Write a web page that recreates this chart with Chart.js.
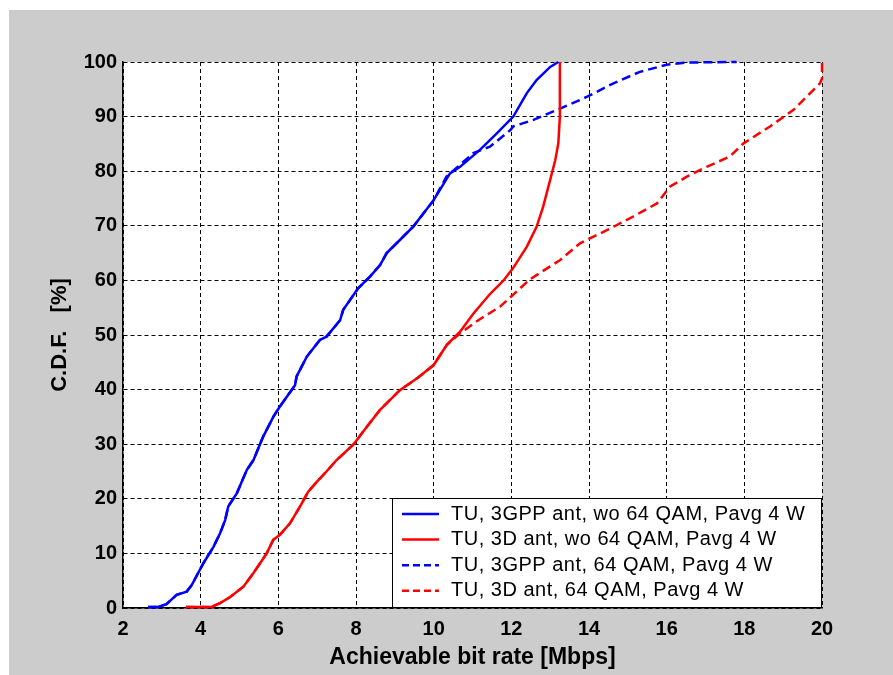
<!DOCTYPE html>
<html>
<head>
<meta charset="utf-8">
<script src="https://cdn.jsdelivr.net/npm/chart.js@4"></script>
<style>
  html, body { margin: 0; padding: 0; background: #ffffff; }
  #fig { position: absolute; left: 9px; top: 10px; width: 884px; height: 665px; background: #cccccc; }
  canvas { display: block; }
</style>
</head>
<body>
<div id="fig"><canvas id="grafico" width="884" height="665"></canvas></div>
<script>
// ==========================
// Data
// ==========================
const xTicks = [2, 4, 6, 8, 10, 12, 14, 16, 18, 20];
const yTicks = [0, 10, 20, 30, 40, 50, 60, 70, 80, 90, 100];

const seriesLabels = [
  "TU, 3GPP ant, wo 64 QAM, Pavg 4 W",
  "TU, 3D ant, wo 64 QAM, Pavg 4 W",
  "TU, 3GPP ant, 64 QAM, Pavg 4 W",
  "TU, 3D ant, 64 QAM, Pavg 4 W",
];

// blue solid
const blueSolidX = [2.65, 2.9, 3.12, 3.38, 3.64, 3.77, 3.98, 4.07, 4.33, 4.5, 4.63, 4.71, 4.93, 5.19, 5.36, 5.61, 5.87, 6.04, 6.43, 6.47, 6.73, 7.07, 7.24, 7.59, 7.67, 8.06, 8.36, 8.62, 8.79, 9.13, 9.48, 10.0, 10.42, 10.68, 11.19, 11.62, 12.05, 12.4, 12.65, 13.0, 13.21];
const blueSolidY = [0.2, 0.2, 0.7, 2.4, 3.0, 4.2, 7.0, 8.2, 11.2, 13.7, 16.1, 18.6, 21.0, 25.3, 27.1, 31.4, 35.0, 36.9, 40.8, 42.4, 46.0, 49.1, 49.7, 52.7, 54.6, 58.6, 60.7, 62.8, 65.0, 67.4, 69.9, 74.7, 79.6, 80.8, 83.9, 86.9, 90.0, 94.3, 96.7, 99.1, 100];

// red solid
const redSolidX = [3.62, 4.28, 4.5, 4.76, 5.1, 5.36, 5.53, 5.7, 5.87, 6.04, 6.3, 6.56, 6.77, 6.99, 7.24, 7.5, 7.93, 8.28, 8.62, 9.13, 9.6, 10.0, 10.34, 10.68, 11.02, 11.45, 11.8, 12.05, 12.4, 12.65, 12.82, 13.0, 13.13, 13.21, 13.25, 13.25];
const redSolidY = [0.2, 0.2, 0.9, 2.0, 3.9, 6.4, 8.2, 10.0, 12.5, 13.4, 15.5, 18.6, 21.3, 23.1, 25.0, 27.1, 29.9, 33.2, 36.3, 39.9, 42.2, 44.5, 48.2, 50.6, 53.9, 57.5, 60.0, 62.3, 66.2, 69.8, 73.5, 78.4, 82.0, 85.1, 90.0, 100];

// blue dashed
const blueDashX = [2.65, 2.9, 3.12, 3.38, 3.64, 3.77, 3.98, 4.07, 4.33, 4.5, 4.63, 4.71, 4.93, 5.19, 5.36, 5.61, 5.87, 6.04, 6.43, 6.47, 6.73, 7.07, 7.24, 7.59, 7.67, 8.06, 8.36, 8.62, 8.79, 9.13, 9.48, 10.0, 10.33, 11.02, 11.45, 11.97, 12.05, 12.57, 13.27, 13.94, 14.63, 15.31, 16.0, 16.51, 17.8];
const blueDashY = [0.2, 0.2, 0.7, 2.4, 3.0, 4.2, 7.0, 8.2, 11.2, 13.7, 16.1, 18.6, 21.0, 25.3, 27.1, 31.4, 35.0, 36.9, 40.8, 42.4, 46.0, 49.1, 49.7, 52.7, 54.6, 58.6, 60.7, 62.8, 65.0, 67.4, 69.9, 74.7, 79.0, 83.3, 84.5, 87.5, 88.2, 89.4, 91.5, 93.6, 96.1, 98.2, 99.5, 99.9, 100];

// red dashed
const redDashX = [3.62, 4.28, 4.5, 4.76, 5.1, 5.36, 5.53, 5.7, 5.87, 6.04, 6.3, 6.56, 6.77, 6.99, 7.24, 7.5, 7.93, 8.28, 8.62, 9.13, 9.6, 10.0, 10.34, 10.68, 11.19, 11.71, 12.05, 12.48, 13.25, 13.77, 14.46, 15.14, 15.75, 16.09, 16.52, 17.03, 17.63, 17.98, 18.66, 19.26, 19.78, 19.95, 20.0, 20.0];
const redDashY = [0.2, 0.2, 0.9, 2.0, 3.9, 6.4, 8.2, 10.0, 12.5, 13.4, 15.5, 18.6, 21.3, 23.1, 25.0, 27.1, 29.9, 33.2, 36.3, 39.9, 42.2, 44.5, 48.2, 50.3, 52.9, 55.2, 57.4, 60.2, 63.7, 66.8, 69.2, 71.7, 74.1, 77.2, 79.0, 80.8, 82.7, 85.1, 88.2, 91.2, 94.9, 96.1, 97.0, 100];

// ==========================
// Helpers
// ==========================
function pontos(xs, ys) {
  return xs.map((x, i) => ({ x: x, y: ys[i] }));
}

const azul = "#0000ff";
const vermelho = "#ff0000";
const tracejado = [9, 5];

const datasets = [
  { label: seriesLabels[0], data: pontos(blueSolidX, blueSolidY), borderColor: azul, dash: [] },
  { label: seriesLabels[1], data: pontos(redSolidX, redSolidY), borderColor: vermelho, dash: [] },
  { label: seriesLabels[2], data: pontos(blueDashX, blueDashY), borderColor: azul, dash: tracejado },
  { label: seriesLabels[3], data: pontos(redDashX, redDashY), borderColor: vermelho, dash: tracejado },
].map((d) => ({
  label: d.label,
  data: d.data,
  borderColor: d.borderColor,
  backgroundColor: d.borderColor,
  borderDash: d.dash,
  borderWidth: 2.5,
  pointRadius: 0,
  showLine: true,
  tension: 0,
  fill: false,
  clip: 4,
}));

// legend box drawn inside the axes (bottom right corner), matlab style
const legendaMatlab = {
  id: "legendaMatlab",
  afterDraw(chart) {
    const { ctx, chartArea } = chart;
    const w = 430, h = 110;
    const x0 = chartArea.right - w;
    const y0 = chartArea.bottom - h;
    ctx.save();
    ctx.fillStyle = "#ffffff";
    ctx.fillRect(x0, y0, w, h);
    ctx.strokeStyle = "#000000";
    ctx.lineWidth = 1;
    ctx.strokeRect(x0 + 0.5, y0 + 0.5, w - 1, h - 1);
    ctx.font = "20px 'Liberation Sans', Arial, sans-serif";
    ctx.letterSpacing = "0.5px";
    ctx.textBaseline = "middle";
    ctx.fillStyle = "#000000";
    chart.data.datasets.forEach((ds, i) => {
      const yy = y0 + 16 + i * 25.6;
      ctx.beginPath();
      ctx.setLineDash(ds.borderDash.length ? [7, 4] : []);
      ctx.strokeStyle = ds.borderColor;
      ctx.lineWidth = 2.5;
      ctx.moveTo(x0 + 10, yy);
      ctx.lineTo(x0 + 47, yy);
      ctx.stroke();
      ctx.setLineDash([]);
      ctx.fillText(ds.label, x0 + 59, yy);
    });
    ctx.restore();
  },
};

const fundoBranco = {
  id: "fundoBranco",
  beforeDraw(chart) {
    const { ctx, chartArea } = chart;
    ctx.save();
    ctx.fillStyle = "#ffffff";
    ctx.fillRect(chartArea.left, chartArea.top, chartArea.right - chartArea.left, chartArea.bottom - chartArea.top);
    ctx.restore();
  },
};

const fonteTick = { family: "'Liberation Sans', Arial, sans-serif", size: 20, weight: "bold" };

new Chart(document.getElementById("grafico").getContext("2d"), {
  type: "scatter",
  data: { datasets },
  options: {
    responsive: false,
    animation: false,
    layout: { padding: { top: 52, right: 71, left: 0, bottom: 0 } },
    plugins: { legend: { display: false }, tooltip: { enabled: false } },
    scales: {
      x: {
        type: "linear",
        min: 2,
        max: 20,
        afterFit: (s) => { s.height = 67; },
        afterBuildTicks: (s) => { s.ticks = xTicks.map((v) => ({ value: v })); },
        ticks: { color: "#000", font: fonteTick, padding: 9, maxRotation: 0 },
        grid: { color: "#000", lineWidth: 1, drawTicks: false },
        border: { display: true, color: "#000", width: 1.5, dash: [4, 3] },
        title: {
          display: true,
          text: "Achievable bit rate [Mbps]",
          color: "#000",
          font: { family: "'Liberation Sans', Arial, sans-serif", size: 23, weight: "bold" },
          padding: { top: 0, bottom: 4 },
        },
      },
      y: {
        type: "linear",
        min: 0,
        max: 100,
        afterFit: (s) => { s.width = 114; },
        afterBuildTicks: (s) => { s.ticks = yTicks.map((v) => ({ value: v })); },
        ticks: { color: "#000", font: fonteTick, padding: 6 },
        grid: { color: "#000", lineWidth: 1, drawTicks: false },
        border: { display: true, color: "#000", width: 1.5, dash: [4, 3] },
        title: {
          display: true,
          text: "C.D.F.   [%]",
          color: "#000",
          font: { family: "'Liberation Sans', Arial, sans-serif", size: 22, weight: "bold" },
          padding: { top: 38, bottom: 0 },
        },
      },
    },
  },
  plugins: [fundoBranco, legendaMatlab],
});
</script>
</body>
</html>
